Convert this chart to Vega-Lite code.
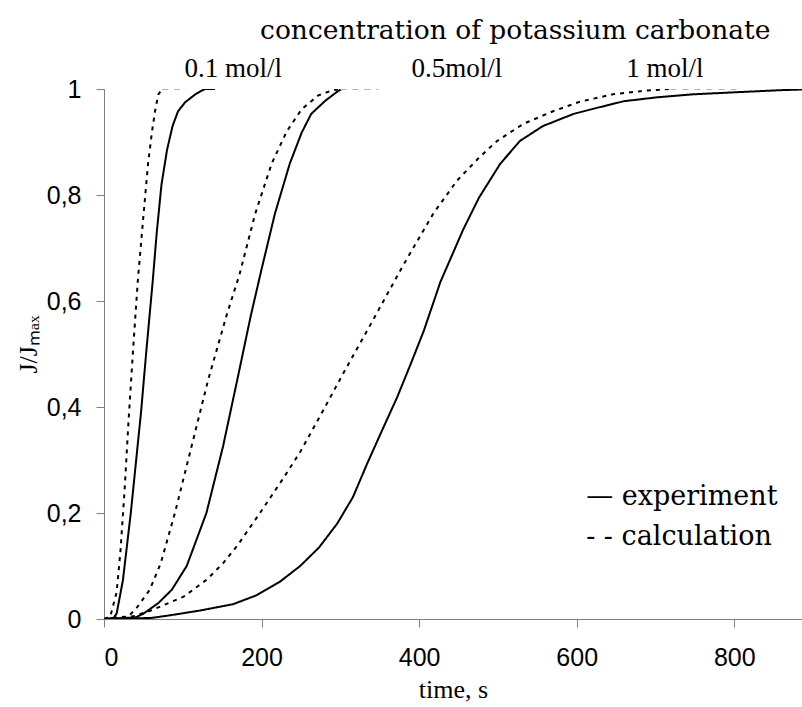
{
  "$schema": "https://vega.github.io/schema/vega-lite/v6.json",
  "width": 698,
  "height": 530,
  "autosize": {"type": "none"},
  "padding": {"left": 104, "top": 89, "right": 0, "bottom": 88},
  "background": "white",
  "config": {"view": {"stroke": null}},
  "datasets": {
    "curves": [
      {"series": "exp01", "kind": "experiment", "t": 0, "v": 0},
      {"series": "exp01", "kind": "experiment", "t": 12, "v": 0.002},
      {"series": "exp01", "kind": "experiment", "t": 16, "v": 0.01},
      {"series": "exp01", "kind": "experiment", "t": 24, "v": 0.073},
      {"series": "exp01", "kind": "experiment", "t": 34, "v": 0.2},
      {"series": "exp01", "kind": "experiment", "t": 47, "v": 0.39},
      {"series": "exp01", "kind": "experiment", "t": 54, "v": 0.51},
      {"series": "exp01", "kind": "experiment", "t": 62, "v": 0.64},
      {"series": "exp01", "kind": "experiment", "t": 67, "v": 0.73},
      {"series": "exp01", "kind": "experiment", "t": 73, "v": 0.82},
      {"series": "exp01", "kind": "experiment", "t": 80, "v": 0.885},
      {"series": "exp01", "kind": "experiment", "t": 87, "v": 0.93},
      {"series": "exp01", "kind": "experiment", "t": 94, "v": 0.958},
      {"series": "exp01", "kind": "experiment", "t": 103, "v": 0.975},
      {"series": "exp01", "kind": "experiment", "t": 116, "v": 0.99},
      {"series": "exp01", "kind": "experiment", "t": 128, "v": 1.0},
      {"series": "exp01", "kind": "experiment", "t": 141, "v": 1.0},

      {"series": "calc01", "kind": "calculation", "t": 0, "v": 0},
      {"series": "calc01", "kind": "calculation", "t": 8, "v": 0.005},
      {"series": "calc01", "kind": "calculation", "t": 16, "v": 0.05},
      {"series": "calc01", "kind": "calculation", "t": 21, "v": 0.13},
      {"series": "calc01", "kind": "calculation", "t": 26, "v": 0.24},
      {"series": "calc01", "kind": "calculation", "t": 31, "v": 0.37},
      {"series": "calc01", "kind": "calculation", "t": 37, "v": 0.51},
      {"series": "calc01", "kind": "calculation", "t": 43, "v": 0.64},
      {"series": "calc01", "kind": "calculation", "t": 50, "v": 0.76},
      {"series": "calc01", "kind": "calculation", "t": 56, "v": 0.86},
      {"series": "calc01", "kind": "calculation", "t": 61, "v": 0.92},
      {"series": "calc01", "kind": "calculation", "t": 65, "v": 0.96},
      {"series": "calc01", "kind": "calculation", "t": 69, "v": 0.99},
      {"series": "calc01", "kind": "calculation", "t": 74, "v": 1.0},
      {"series": "tail01", "kind": "tail", "t": 74, "v": 1.0},
      {"series": "tail01", "kind": "tail", "t": 96, "v": 1.0},

      {"series": "exp05", "kind": "experiment", "t": 0, "v": 0},
      {"series": "exp05", "kind": "experiment", "t": 40, "v": 0.003},
      {"series": "exp05", "kind": "experiment", "t": 50, "v": 0.01},
      {"series": "exp05", "kind": "experiment", "t": 69, "v": 0.03},
      {"series": "exp05", "kind": "experiment", "t": 86, "v": 0.055},
      {"series": "exp05", "kind": "experiment", "t": 105, "v": 0.1},
      {"series": "exp05", "kind": "experiment", "t": 130, "v": 0.2},
      {"series": "exp05", "kind": "experiment", "t": 151, "v": 0.325},
      {"series": "exp05", "kind": "experiment", "t": 169, "v": 0.45},
      {"series": "exp05", "kind": "experiment", "t": 186, "v": 0.57},
      {"series": "exp05", "kind": "experiment", "t": 200, "v": 0.66},
      {"series": "exp05", "kind": "experiment", "t": 217, "v": 0.765},
      {"series": "exp05", "kind": "experiment", "t": 236, "v": 0.86},
      {"series": "exp05", "kind": "experiment", "t": 251, "v": 0.918},
      {"series": "exp05", "kind": "experiment", "t": 263, "v": 0.953},
      {"series": "exp05", "kind": "experiment", "t": 281, "v": 0.978},
      {"series": "exp05", "kind": "experiment", "t": 297, "v": 0.996},
      {"series": "exp05", "kind": "experiment", "t": 302, "v": 1.0},

      {"series": "calc05", "kind": "calculation", "t": 0, "v": 0},
      {"series": "calc05", "kind": "calculation", "t": 31, "v": 0.005},
      {"series": "calc05", "kind": "calculation", "t": 41, "v": 0.02},
      {"series": "calc05", "kind": "calculation", "t": 58, "v": 0.055},
      {"series": "calc05", "kind": "calculation", "t": 72, "v": 0.105},
      {"series": "calc05", "kind": "calculation", "t": 90, "v": 0.2},
      {"series": "calc05", "kind": "calculation", "t": 111, "v": 0.325},
      {"series": "calc05", "kind": "calculation", "t": 132, "v": 0.45},
      {"series": "calc05", "kind": "calculation", "t": 156, "v": 0.575},
      {"series": "calc05", "kind": "calculation", "t": 172, "v": 0.65},
      {"series": "calc05", "kind": "calculation", "t": 192, "v": 0.765},
      {"series": "calc05", "kind": "calculation", "t": 213, "v": 0.86},
      {"series": "calc05", "kind": "calculation", "t": 232, "v": 0.92},
      {"series": "calc05", "kind": "calculation", "t": 251, "v": 0.962},
      {"series": "calc05", "kind": "calculation", "t": 272, "v": 0.988},
      {"series": "calc05", "kind": "calculation", "t": 289, "v": 0.997},
      {"series": "calc05", "kind": "calculation", "t": 300, "v": 1.0},
      {"series": "tail05", "kind": "tail", "t": 300, "v": 1.0},
      {"series": "tail05", "kind": "tail", "t": 348, "v": 1.0},

      {"series": "exp1", "kind": "experiment", "t": 0, "v": 0},
      {"series": "exp1", "kind": "experiment", "t": 60, "v": 0.002},
      {"series": "exp1", "kind": "experiment", "t": 84, "v": 0.007},
      {"series": "exp1", "kind": "experiment", "t": 122, "v": 0.016},
      {"series": "exp1", "kind": "experiment", "t": 164, "v": 0.028},
      {"series": "exp1", "kind": "experiment", "t": 194, "v": 0.045},
      {"series": "exp1", "kind": "experiment", "t": 223, "v": 0.07},
      {"series": "exp1", "kind": "experiment", "t": 249, "v": 0.1},
      {"series": "exp1", "kind": "experiment", "t": 273, "v": 0.135},
      {"series": "exp1", "kind": "experiment", "t": 296, "v": 0.18},
      {"series": "exp1", "kind": "experiment", "t": 316, "v": 0.23},
      {"series": "exp1", "kind": "experiment", "t": 334, "v": 0.293},
      {"series": "exp1", "kind": "experiment", "t": 353, "v": 0.356},
      {"series": "exp1", "kind": "experiment", "t": 372, "v": 0.418},
      {"series": "exp1", "kind": "experiment", "t": 389, "v": 0.48},
      {"series": "exp1", "kind": "experiment", "t": 406, "v": 0.544},
      {"series": "exp1", "kind": "experiment", "t": 427, "v": 0.636},
      {"series": "exp1", "kind": "experiment", "t": 456, "v": 0.735},
      {"series": "exp1", "kind": "experiment", "t": 476, "v": 0.795},
      {"series": "exp1", "kind": "experiment", "t": 503, "v": 0.859},
      {"series": "exp1", "kind": "experiment", "t": 528, "v": 0.902},
      {"series": "exp1", "kind": "experiment", "t": 557, "v": 0.93},
      {"series": "exp1", "kind": "experiment", "t": 596, "v": 0.953},
      {"series": "exp1", "kind": "experiment", "t": 630, "v": 0.966},
      {"series": "exp1", "kind": "experiment", "t": 660, "v": 0.977},
      {"series": "exp1", "kind": "experiment", "t": 700, "v": 0.984},
      {"series": "exp1", "kind": "experiment", "t": 748, "v": 0.99},
      {"series": "exp1", "kind": "experiment", "t": 804, "v": 0.994},
      {"series": "exp1", "kind": "experiment", "t": 862, "v": 0.998},
      {"series": "exp1", "kind": "experiment", "t": 886, "v": 0.999},

      {"series": "calc1", "kind": "calculation", "t": 0, "v": 0},
      {"series": "calc1", "kind": "calculation", "t": 37, "v": 0.005},
      {"series": "calc1", "kind": "calculation", "t": 58, "v": 0.015},
      {"series": "calc1", "kind": "calculation", "t": 101, "v": 0.042},
      {"series": "calc1", "kind": "calculation", "t": 131, "v": 0.075},
      {"series": "calc1", "kind": "calculation", "t": 151, "v": 0.105},
      {"series": "calc1", "kind": "calculation", "t": 169, "v": 0.138},
      {"series": "calc1", "kind": "calculation", "t": 198, "v": 0.2},
      {"series": "calc1", "kind": "calculation", "t": 226, "v": 0.262},
      {"series": "calc1", "kind": "calculation", "t": 249, "v": 0.315},
      {"series": "calc1", "kind": "calculation", "t": 278, "v": 0.393},
      {"series": "calc1", "kind": "calculation", "t": 305, "v": 0.467},
      {"series": "calc1", "kind": "calculation", "t": 334, "v": 0.544},
      {"series": "calc1", "kind": "calculation", "t": 380, "v": 0.668},
      {"series": "calc1", "kind": "calculation", "t": 418, "v": 0.765},
      {"series": "calc1", "kind": "calculation", "t": 448, "v": 0.827},
      {"series": "calc1", "kind": "calculation", "t": 477, "v": 0.872},
      {"series": "calc1", "kind": "calculation", "t": 499, "v": 0.902},
      {"series": "calc1", "kind": "calculation", "t": 532, "v": 0.934},
      {"series": "calc1", "kind": "calculation", "t": 570, "v": 0.958},
      {"series": "calc1", "kind": "calculation", "t": 604, "v": 0.976},
      {"series": "calc1", "kind": "calculation", "t": 646, "v": 0.99},
      {"series": "calc1", "kind": "calculation", "t": 689, "v": 0.997},
      {"series": "calc1", "kind": "calculation", "t": 719, "v": 1.0},
      {"series": "tail1", "kind": "tail", "t": 719, "v": 1.0},
      {"series": "tail1", "kind": "tail", "t": 804, "v": 1.0}
    ],
    "heading": [
      {"label": "concentration of potassium carbonate", "t": 522, "v": 1.109}
    ],
    "conc": [
      {"label": "0.1 mol/l", "t": 164, "v": 1.038},
      {"label": "0.5mol/l", "t": 448, "v": 1.038},
      {"label": "1 mol/l", "t": 712, "v": 1.038}
    ],
    "legendtext": [
      {"label": "— experiment", "t": 612, "v": 0.23},
      {"label": "- - calculation", "t": 612, "v": 0.154}
    ]
  },
  "layer": [
    {
      "data": {"name": "curves"},
      "mark": {"type": "line", "strokeWidth": 2, "clip": true},
      "encoding": {
        "x": {
          "field": "t", "type": "quantitative",
          "scale": {"domain": [0, 886], "nice": false},
          "axis": {
            "values": [0, 200, 400, 600, 800],
            "title": "time, s",
            "grid": false,
            "domainColor": "#808080", "tickColor": "#808080", "tickSize": 8,
            "labelFont": "Liberation Sans", "labelFontSize": 25, "labelColor": "#000",
            "labelPadding": 18,
            "titleFont": "Liberation Serif", "titleFontSize": 26, "titleFontWeight": "normal",
            "titleColor": "#000", "titlePadding": 6
          }
        },
        "y": {
          "field": "v", "type": "quantitative",
          "scale": {"domain": [0, 1], "nice": false},
          "axis": {
            "values": [0, 0.2, 0.4, 0.6, 0.8, 1],
            "labelExpr": "replace(format(datum.value, '~r'), '.', ',')",
            "title": "J/Jₘₐₓ",
            "titleY": 255,
            "grid": false,
            "domainColor": "#808080", "tickColor": "#808080", "tickSize": 8,
            "labelFont": "Liberation Sans", "labelFontSize": 25, "labelColor": "#000",
            "labelPadding": 15,
            "titleFont": "Liberation Serif", "titleFontSize": 26, "titleFontWeight": "normal",
            "titleColor": "#000", "titlePadding": 5
          }
        },
        "detail": {"field": "series", "type": "nominal"},
        "color": {
          "field": "kind", "type": "nominal",
          "scale": {"domain": ["experiment", "calculation", "tail"], "range": ["#000000", "#000000", "#b0b0b0"]},
          "legend": null
        },
        "strokeDash": {
          "field": "kind", "type": "nominal",
          "scale": {"domain": ["experiment", "calculation", "tail"], "range": [[1, 0], [4, 5], [6, 6]]},
          "legend": null
        }
      }
    },
    {
      "data": {"name": "heading"},
      "mark": {"type": "text", "font": "DejaVu Serif", "fontSize": 26.5, "color": "#000", "align": "center", "baseline": "middle"},
      "encoding": {
        "x": {"field": "t", "type": "quantitative"},
        "y": {"field": "v", "type": "quantitative"},
        "text": {"field": "label"}
      }
    },
    {
      "data": {"name": "conc"},
      "mark": {"type": "text", "font": "Liberation Serif", "fontSize": 27, "color": "#000", "align": "center", "baseline": "middle"},
      "encoding": {
        "x": {"field": "t", "type": "quantitative"},
        "y": {"field": "v", "type": "quantitative"},
        "text": {"field": "label"}
      }
    },
    {
      "data": {"name": "legendtext"},
      "mark": {"type": "text", "font": "DejaVu Serif", "fontSize": 27, "color": "#000", "align": "left", "baseline": "middle"},
      "encoding": {
        "x": {"field": "t", "type": "quantitative"},
        "y": {"field": "v", "type": "quantitative"},
        "text": {"field": "label"}
      }
    }
  ]
}
